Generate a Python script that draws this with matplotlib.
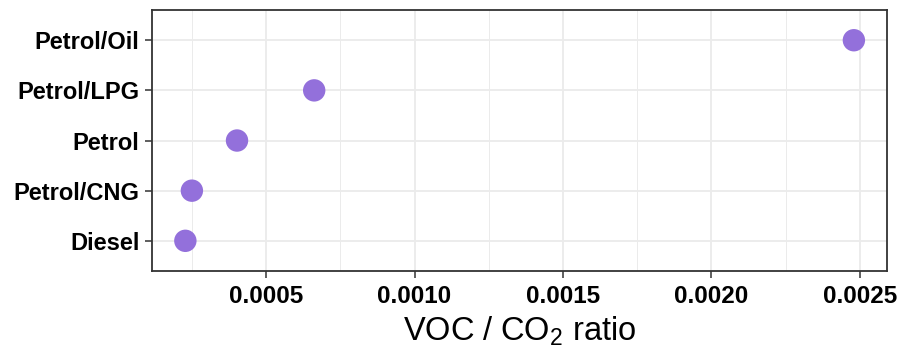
import numpy as np
import matplotlib
matplotlib.use('Agg')
import matplotlib.pyplot as plt
from matplotlib.ticker import MultipleLocator, FormatStrFormatter

plt.rcParams['font.family'] = ['Liberation Sans', 'DejaVu Sans']
plt.rcParams['mathtext.default'] = 'regular'

# data
fuels = ['Diesel', 'Petrol/CNG', 'Petrol', 'Petrol/LPG', 'Petrol/Oil']
ratio = [0.000228, 0.000250, 0.000402, 0.000662, 0.002480]

fig = plt.figure(figsize=(8.99, 3.5), dpi=100)
ax = fig.add_axes([0.169, 0.226, 0.818, 0.745])

y = np.arange(1, len(fuels) + 1)
ax.scatter(ratio, y, s=260, color='#9370DB', edgecolors='none', zorder=3)

ax.set_ylim(0.4, len(fuels) + 0.6)
ax.set_yticks(y)
ax.set_yticklabels(fuels, fontweight='bold', fontsize=17)
ax.margins(x=0.05)

ax.xaxis.set_major_locator(MultipleLocator(0.0005))
ax.xaxis.set_minor_locator(MultipleLocator(0.00025))
ax.xaxis.set_major_formatter(FormatStrFormatter('%.4f'))
for lab in ax.get_xticklabels():
    lab.set_fontweight('bold')
    lab.set_fontsize(17.5)

# grid like theme_bw
ax.grid(True, which='major', color='#EBEBEB', linewidth=1.3, zorder=0)
ax.grid(True, which='minor', axis='x', color='#EBEBEB', linewidth=0.7, zorder=0)
ax.set_axisbelow(True)

ax.tick_params(axis='both', which='major', length=5, width=1.1, color='#333333',
               labelcolor='black')
ax.tick_params(axis='x', which='major', pad=5)
ax.tick_params(axis='y', which='major', pad=4)
ax.tick_params(axis='x', which='minor', length=0)
for sp in ax.spines.values():
    sp.set_color('#333333')
    sp.set_linewidth(1.3)

ax.set_xlabel(r'VOC$\;/\;$CO$_2$ ratio', fontsize=23.5, labelpad=5)

plt.savefig('out.png', dpi=100)
